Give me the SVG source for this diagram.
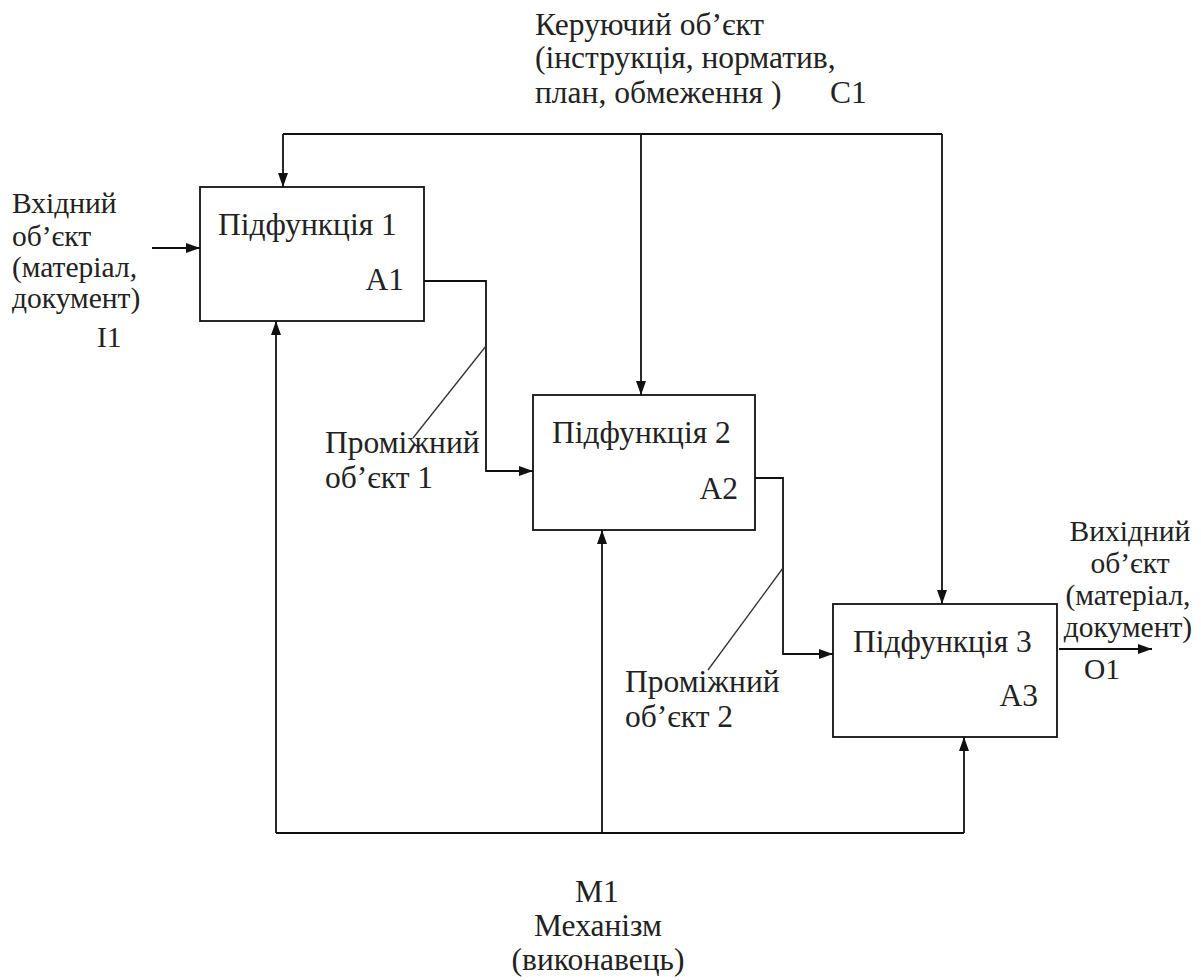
<svg xmlns="http://www.w3.org/2000/svg" width="1201" height="980" viewBox="0 0 1201 980">
<style>
.t{font-family:"Liberation Serif","Times New Roman",serif;font-size:31.5px;fill:#222}
.s{font-family:"Liberation Serif","Times New Roman",serif;font-size:29.5px;fill:#222}
.b{fill:#fff;stroke:#111;stroke-width:1.8}
.c{fill:none;stroke:#111;stroke-width:1.8}
.thin{fill:none;stroke:#333;stroke-width:1.3}
</style>
<defs>
<marker id="ah" markerWidth="14" markerHeight="10" refX="14" refY="5" orient="auto" markerUnits="userSpaceOnUse">
<path d="M0,0 L14,5 L0,10 Z" fill="#111"/>
</marker>
</defs>
<rect width="1201" height="980" fill="#fff"/>
<g id="connectors">
<path class="c" d="M283,134 L942,134"/>
<path class="c" d="M283,134 L283,187" marker-end="url(#ah)"/>
<path class="c" d="M641,134 L641,395" marker-end="url(#ah)"/>
<path class="c" d="M942,134 L942,604" marker-end="url(#ah)"/>
<path class="c" d="M152,248 L200,248" marker-end="url(#ah)"/>
<path class="c" d="M424,281 L486,281 L486,471 L533,471" marker-end="url(#ah)"/>
<path class="c" d="M755,478 L783,478 L783,654 L833,654" marker-end="url(#ah)"/>
<path class="c" d="M1059,649 L1152,649" marker-end="url(#ah)"/>
<path class="c" d="M276,833 L964,833"/>
<path class="c" d="M276,833 L276,321" marker-end="url(#ah)"/>
<path class="c" d="M602,833 L602,530" marker-end="url(#ah)"/>
<path class="c" d="M964,833 L964,737" marker-end="url(#ah)"/>
<path class="thin" d="M486,346 L413,438"/>
<path class="thin" d="M783,568 L708,670"/>
</g>
<g id="node-a1">
<rect class="b" x="200" y="187" width="224" height="134"/>
<text class="t" x="218" y="235">Підфункція 1</text>
<text class="t" x="404" y="290" text-anchor="end">A1</text>
</g>
<g id="node-a2">
<rect class="b" x="533" y="395" width="222" height="135"/>
<text class="t" x="552" y="443">Підфункція 2</text>
<text class="t" x="738" y="499" text-anchor="end">A2</text>
</g>
<g id="node-a3">
<rect class="b" x="833" y="604" width="224" height="133"/>
<text class="t" x="853" y="652">Підфункція 3</text>
<text class="t" x="1038" y="706" text-anchor="end">A3</text>
</g>
<g id="label-control">
<text class="t" x="535" y="35">Керуючий об’єкт</text>
<text class="t" x="535" y="68">(інструкція, норматив,</text>
<text class="t" x="535" y="103">план, обмеження )</text>
<text class="t" x="830" y="103">C1</text>
</g>
<g id="label-input">
<text class="s" x="12" y="213">Вхідний</text>
<text class="s" x="12" y="246">об’єкт</text>
<text class="s" x="12" y="277">(матеріал,</text>
<text class="s" x="12" y="308">документ)</text>
<text class="s" x="97" y="347">I1</text>
</g>
<g id="label-mid1">
<text class="t" x="325" y="453">Проміжний</text>
<text class="t" x="325" y="488">об’єкт 1</text>
</g>
<g id="label-mid2">
<text class="t" x="625" y="692">Проміжний</text>
<text class="t" x="625" y="727">об’єкт 2</text>
</g>
<g id="label-output">
<text class="s" x="1130" y="541" text-anchor="middle">Вихідний</text>
<text class="s" x="1130" y="573" text-anchor="middle">об’єкт</text>
<text class="s" x="1128" y="605" text-anchor="middle">(матеріал,</text>
<text class="s" x="1128" y="637" text-anchor="middle">документ)</text>
<text class="s" x="1084" y="679">O1</text>
</g>
<g id="label-mech">
<text class="t" x="597" y="902" text-anchor="middle">M1</text>
<text class="t" x="598" y="936" text-anchor="middle">Механізм</text>
<text class="t" x="598" y="970" text-anchor="middle">(виконавець)</text>
</g>
</svg>
